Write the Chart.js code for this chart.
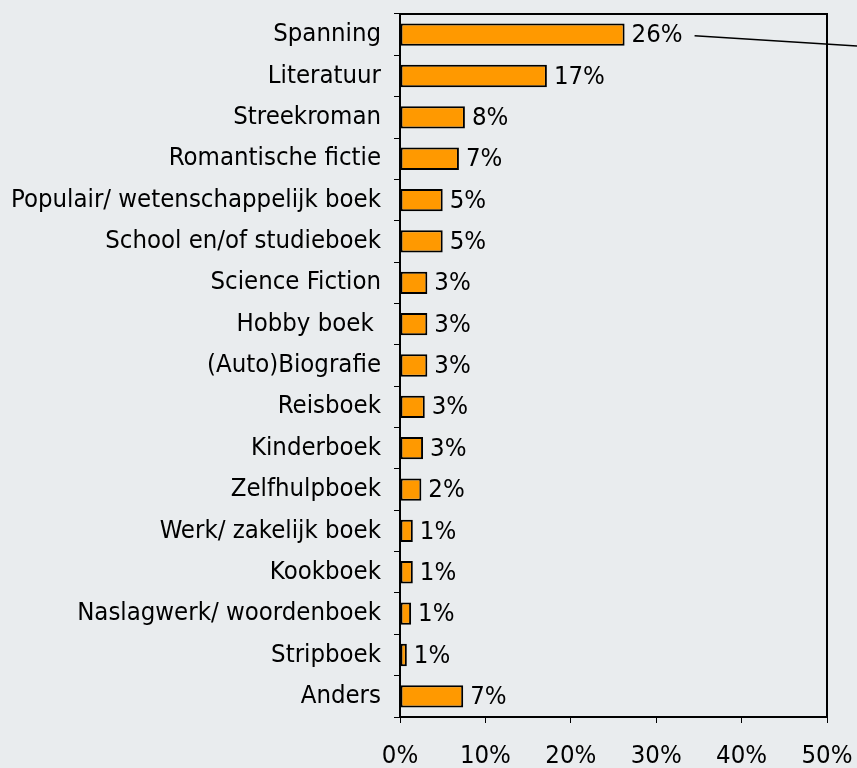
<!DOCTYPE html>
<html>
<head>
<meta charset="utf-8">
<script src="https://cdn.jsdelivr.net/npm/chart.js@4/dist/chart.umd.min.js"></script>
<style>
  html, body { margin: 0; padding: 0; background: #e9ecee; }
  #wrap { width: 857px; height: 768px; position: relative; }
</style>
</head>
<body>
<div id="wrap"><canvas id="chart"></canvas></div>
<script>
const categories = [
  'Spanning', 'Literatuur', 'Streekroman', 'Romantische fictie',
  'Populair/ wetenschappelijk boek', 'School en/of studieboek', 'Science Fiction',
  'Hobby boek ', '(Auto)Biografie', 'Reisboek', 'Kinderboek', 'Zelfhulpboek',
  'Werk/ zakelijk boek', 'Kookboek', 'Naslagwerk/ woordenboek', 'Stripboek', 'Anders'
];
const shares = [26.3, 17.2, 7.6, 6.9, 5.0, 5.0, 3.2, 3.2, 3.2, 2.9, 2.7, 2.5, 1.5, 1.5, 1.3, 0.8, 7.4];
const shareLabels = ['26%', '17%', '8%', '7%', '5%', '5%', '3%', '3%', '3%', '3%', '3%', '2%', '1%', '1%', '1%', '1%', '7%'];
const xTicks = [0, 10, 20, 30, 40, 50];

const FONT = 'Tahoma, "DejaVu Sans Condensed", "DejaVu Sans", sans-serif';
const FONT_SIZE = 25.5;

// value labels next to each bar + leader line from the top label
const valueLabels = {
  id: 'valueLabels',
  afterDatasetsDraw(chart) {
    const { ctx } = chart;
    const meta = chart.getDatasetMeta(0);
    ctx.save();
    ctx.font = FONT_SIZE + 'px ' + FONT;
    ctx.fillStyle = '#000';
    ctx.textBaseline = 'middle';
    ctx.textAlign = 'left';
    meta.data.forEach((bar, i) => {
      ctx.fillText(shareLabels[i], bar.x + 7, bar.y + 1);
    });
    // leader line running off the right edge from the first label
    const first = meta.data[0];
    const w = ctx.measureText(shareLabels[0]).width;
    const x0 = first.x + 7 + w + 12;
    const y0 = first.y + 1;
    ctx.strokeStyle = '#000';
    ctx.lineWidth = 1.5;
    ctx.beginPath();
    ctx.moveTo(x0, y0);
    ctx.lineTo(chart.width, y0 + (chart.width - x0) * 0.063);
    ctx.stroke();
    ctx.restore();
  }
};

// black frame round the plot area
const frame = {
  id: 'frame',
  beforeDatasetsDraw(chart) {
    const { ctx, chartArea: a } = chart;
    ctx.save();
    ctx.strokeStyle = '#000';
    ctx.lineWidth = 2;
    ctx.strokeRect(a.left, a.top, a.right - a.left, a.bottom - a.top);
    ctx.restore();
  }
};

new Chart(document.getElementById('chart'), {
  type: 'bar',
  data: {
    labels: categories,
    datasets: [{
      data: shares,
      backgroundColor: '#ff9900',
      borderColor: '#000',
      borderWidth: 2,
      borderSkipped: false,
      categoryPercentage: 0.54,
      barPercentage: 1.0
    }]
  },
  options: {
    indexAxis: 'y',
    responsive: true,
    maintainAspectRatio: false,
    animation: false,
    layout: { padding: { top: 14, right: 30, left: 0, bottom: 0 } },
    scales: {
      x: {
        min: 0,
        max: 50,
        afterBuildTicks: (scale) => { scale.ticks = xTicks.map(v => ({ value: v })); },
        afterFit: (scale) => { scale.height = 51; scale.paddingLeft = 0; scale.paddingRight = 0; },
        border: { display: false },
        grid: { drawOnChartArea: false, tickLength: 6, color: '#000', lineWidth: 1 },
        ticks: {
          color: '#000',
          padding: 18,
          font: { family: FONT, size: FONT_SIZE },
          callback: (v) => v + '%'
        }
      },
      y: {
        afterFit: (scale) => { scale.width = 400; scale.paddingTop = 0; scale.paddingBottom = 0; },
        border: { display: false },
        grid: { offset: true, drawOnChartArea: false, tickLength: 6, color: '#000', lineWidth: 1 },
        ticks: {
          color: '#000',
          padding: 13,
          font: { family: FONT, size: FONT_SIZE }
        }
      }
    },
    plugins: {
      legend: { display: false },
      tooltip: { enabled: false }
    }
  },
  plugins: [frame, valueLabels]
});
</script>
</body>
</html>
